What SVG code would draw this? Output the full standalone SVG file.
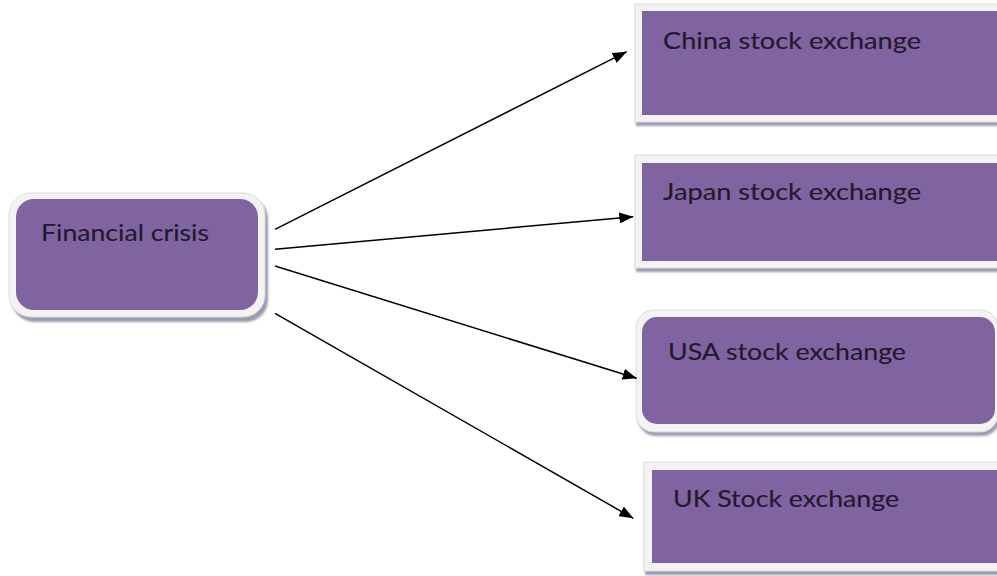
<svg xmlns="http://www.w3.org/2000/svg" width="997" height="576" viewBox="0 0 997 576">
  <defs>
    <style>
      .frame { fill: #f3f3f3; stroke: #dcdcdc; stroke-width: 1; }
      .shadow { fill: #9c9aae; filter: url(#soft); }
      .box { fill: #8064a2; }
      .label { font-family: "Lato", "Liberation Sans", sans-serif; font-size: 23px; fill: #221a2c; stroke: #221a2c; stroke-width: 0.15; }
      .link { stroke: #000; stroke-width: 1.5; fill: none; marker-end: url(#arrow); }
    </style>
    <filter id="soft" x="-5%" y="-5%" width="110%" height="115%">
      <feGaussianBlur stdDeviation="1.2"/>
    </filter>
    <marker id="arrow" viewBox="0 0 14 11" refX="14" refY="5.5" markerWidth="14" markerHeight="11" markerUnits="userSpaceOnUse" orient="auto">
      <path d="M0,0 L14,5.5 L0,11 Z" fill="#000"/>
    </marker>
  </defs>

  <rect width="997" height="576" fill="#ffffff"/>

  <!-- source node -->
  <g id="financial-crisis">
    <rect class="shadow" x="12" y="197" width="256" height="125" rx="22"/>
    <rect class="frame" x="9" y="193" width="256" height="124" rx="22"/>
    <rect class="box" x="16" y="199" width="242" height="111" rx="18"/>
    <text class="label" x="41" y="241" textLength="168" lengthAdjust="spacingAndGlyphs">Financial crisis</text>
  </g>

  <!-- target nodes -->
  <g id="china">
    <rect class="shadow" x="636" y="8" width="370" height="118"/>
    <rect class="frame" x="635" y="4" width="370" height="118"/>
    <rect class="box" x="642" y="11" width="360" height="104"/>
    <text class="label" x="663" y="48.5" textLength="258" lengthAdjust="spacingAndGlyphs">China stock exchange</text>
  </g>

  <g id="japan">
    <rect class="shadow" x="636" y="159" width="370" height="113"/>
    <rect class="frame" x="635" y="155" width="370" height="113"/>
    <rect class="box" x="642" y="163" width="360" height="98"/>
    <text class="label" x="663" y="199.5" textLength="258" lengthAdjust="spacingAndGlyphs">Japan stock exchange</text>
  </g>

  <g id="usa">
    <rect class="shadow" x="638" y="314" width="362" height="122" rx="18"/>
    <rect class="frame" x="636" y="310" width="362" height="122" rx="18"/>
    <rect class="box" x="642" y="317" width="353" height="107" rx="15"/>
    <text class="label" x="668" y="359.5" textLength="238" lengthAdjust="spacingAndGlyphs">USA stock exchange</text>
  </g>

  <g id="uk">
    <rect class="shadow" x="645" y="466" width="360" height="109"/>
    <rect class="frame" x="644" y="462" width="360" height="109"/>
    <rect class="box" x="652" y="470" width="350" height="93"/>
    <text class="label" x="673" y="506.5" textLength="226" lengthAdjust="spacingAndGlyphs">UK Stock exchange</text>
  </g>

  <!-- connectors -->
  <g id="connectors">
    <line class="link" x1="275" y1="229.3" x2="626.7" y2="51.7"/>
    <line class="link" x1="275" y1="249.3" x2="633.3" y2="216.7"/>
    <line class="link" x1="275" y1="266" x2="636.7" y2="378.3"/>
    <line class="link" x1="275" y1="313.3" x2="633.3" y2="518.3"/>
  </g>
</svg>
